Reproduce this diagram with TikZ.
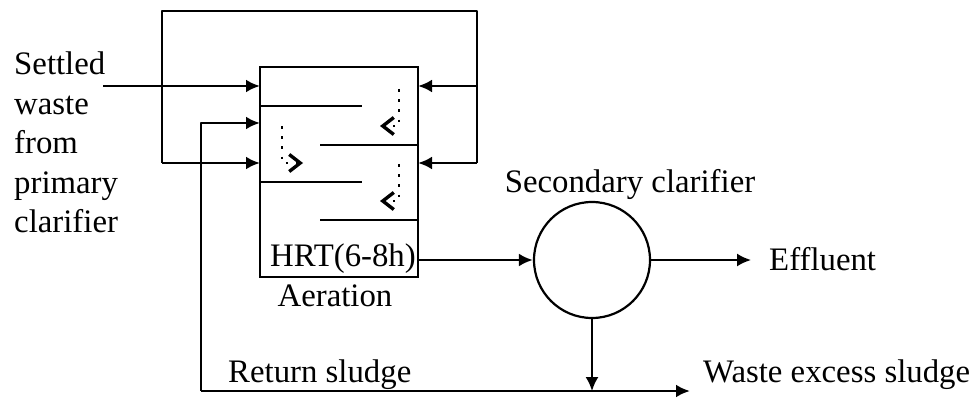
\documentclass[tikz,border=0pt]{standalone}
\usepackage{fontspec}
\setmainfont{Liberation Serif}
\usetikzlibrary{positioning, arrows.meta}
\tikzset{
  lbl/.style={inner sep=0pt, font=\fontsize{32.8}{39.5}\selectfont},
  pipe/.style={line width=2.8pt},
  flow/.style={pipe, -{Latex[length=14pt, width=13pt]}},
  flowthin/.style={line width=2pt, -{Latex[length=14pt, width=13pt]}},
  mix/.style={line width=2.6pt, dash pattern=on 2.6pt off 7.6pt, -{Straight Barb[length=11pt, width=17pt, line width=3.4pt]}},
  tank/.style={draw, line width=2.8pt, minimum width=158pt, minimum height=210pt, inner sep=0pt},
  clarifier/.style={draw, circle, line width=2.2pt, minimum size=116pt, inner sep=0pt}
}

\begin{document}
\begin{tikzpicture}[x=1pt, y=-1pt]
    \useasboundingbox (0,0) rectangle (976,398);
    \node[tank] (aer) at (339,172) {};
    \node[clarifier] (sec) at (592,260) {};

    \node[lbl, anchor=north west, align=left] (feed) at (14,52) {Settled\\waste\\from\\primary\\clarifier};
    \node[lbl, anchor=east] (hrt) at (416,259) {HRT(6-8h)};
    \node[lbl, below=6pt of aer.south, xshift=-4pt] (aerlbl) {Aeration};
    \node[lbl, anchor=base] (seclbl) at (630,193) {Secondary clarifier};
    \node[lbl, anchor=west] (eff) at (769,259) {Effluent};
    \node[lbl, anchor=base west] (retlbl) at (228,382) {Return sludge};
    \node[lbl, anchor=base west] (waste) at (703,382) {Waste excess sludge};

    \coordinate (feedin) at (103,86);
    \coordinate (inA) at (260,86);
    \coordinate (inB) at (260,123);
    \coordinate (inC) at (260,163);
    \coordinate (inD) at (418,86);
    \coordinate (inE) at (418,163);
    \coordinate (loopL) at (162,163);
    \coordinate (loopTL) at (162,11);
    \coordinate (loopTR) at (477,11);
    \coordinate (loopR) at (477,163);
    \coordinate (ret) at (201,391);
    \coordinate (wasteend) at (690,391);
    \coordinate (effend) at (751,260);
    \coordinate (join) at (592,391);

    % Baffles
    \draw[pipe] (260,106) -- (362,106); %
    \draw[pipe] (320,145) -- (418,145); %
    \draw[pipe] (260,182) -- (362,182); %
    \draw[pipe] (320,220) -- (418,220); %

    % Mixing paths
    \draw[mix] (399,89) |- (380,126); %
    \draw[mix] (282,126) |- (303,163); %
    \draw[mix] (399,164) |- (380,201); %

    % Connect the nodes
    \draw[flow] (feedin) -- (inA); %
    \draw[flow] (loopL) -- (inC); %
    \draw[pipe, line join=round] (loopL) -- (loopTL) -- (loopTR) -- (loopR); %
    \draw[flow] (477,86) -- (inD); %
    \draw[flow] (loopR) -- (inE); %
    \draw[flow, line join=round] (ret) |- (inB); %
    \draw[flow] (ret) -- (wasteend); %
    \draw[flow] (aer.east |- sec) -- (sec.west); %
    \draw[flowthin] (sec.east) -- (effend); %
    \draw[flowthin] (sec.south) -- (join); %
\end{tikzpicture}
\end{document}
